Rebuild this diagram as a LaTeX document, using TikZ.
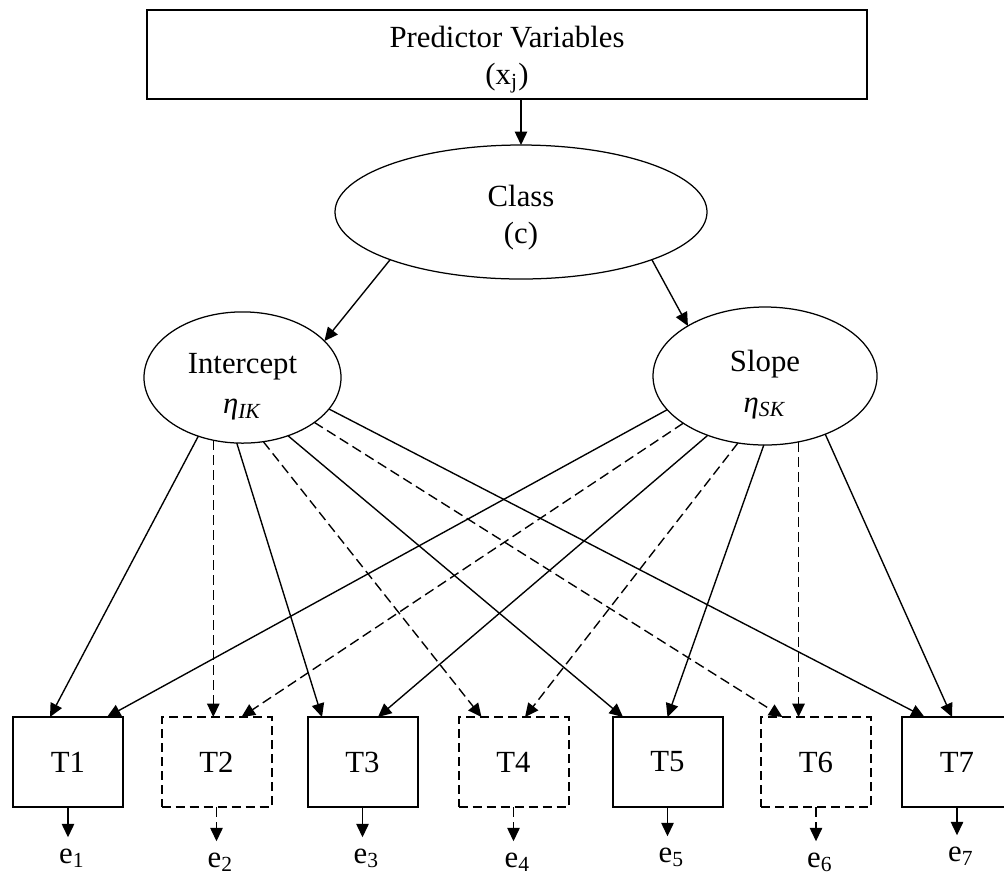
\documentclass[tikz,border=0pt]{standalone}
\usepackage{fontspec}
\setmainfont{Liberation Serif}
\usetikzlibrary{shapes, arrows.meta, positioning}

\tikzset{
  every node/.style={font=\fontsize{12.3}{14.8}\selectfont},
  latent/.style={draw, ellipse, line width=0.5pt, inner sep=0pt, outer sep=0pt, align=center},
  obsbox/.style={draw, rectangle, line width=0.8pt, minimum width=44pt, minimum height=36pt, inner sep=0pt, outer sep=0pt},
  obsdash/.style={obsbox, dash pattern=on 3.6pt off 2pt},
  errlab/.style={inner sep=0pt, outer sep=4.5pt, anchor=base},
  arr/.style={-{Triangle[length=5.4pt,width=5pt]}, line width=0.55pt},
  darr/.style={arr, dash pattern=on 4pt off 2pt},
}

\begin{document}
\begin{tikzpicture}[x=0.4pt, y=-0.4pt]
 \useasboundingbox (0,0) rectangle (1004,876);
 \node [draw, line width=0.8pt, inner sep=0pt, outer sep=0pt, minimum width=288pt, minimum height=35.6pt, align=center] (pred) at (507,54.5) {\rule{0pt}{12.5pt}Predictor Variables\\(x\textsubscript{j})};
 \node [latent, minimum width=148.8pt, minimum height=53.6pt] (cls) at (521,212) {\rule{0pt}{13pt}Class\\(c)};
 \node [latent, minimum width=78.8pt, minimum height=52.5pt] (icpt) at (242.5,377.5) {\rule{0pt}{15.5pt}Intercept\\[1.5pt]\textit{η}\textsubscript{\textit{IK}}};
 \node [latent, minimum width=89.6pt, minimum height=55.2pt] (slope) at (765,376) {\rule{0pt}{15.5pt}Slope\\[1.5pt]\textit{η}\textsubscript{\textit{SK}}};
 \node [obsbox] (t1) at (68,762) {T1};
 \node [obsdash] (t2) at (216.5,762) {T2};
 \node [obsbox] (t3) at (362.5,762) {T3};
 \node [obsdash] (t4) at (513.5,762) {T4};
 \node [obsbox] (t5) at (667.5,762) {T5};
 \node [obsdash] (t6) at (816,762) {T6};
 \node [obsbox] (t7) at (957,762) {T7};
 \node [errlab] (e1) at (72,863) {e\textsubscript{1}};
 \node [errlab] (e2) at (220.5,867) {e\textsubscript{2}};
 \node [errlab] (e3) at (366.5,863) {e\textsubscript{3}};
 \node [errlab] (e4) at (517.5,867) {e\textsubscript{4}};
 \node [errlab] (e5) at (671.5,862) {e\textsubscript{5}};
 \node [errlab] (e6) at (820,867) {e\textsubscript{6}};
 \node [errlab] (e7) at (961,861) {e\textsubscript{7}};
 \draw [arr] (cls.north |- pred.south) -- (cls);
 \draw [arr] (cls.-160) -- (icpt.24.2);
 \draw [arr] (cls.-20.4) -- (slope.147.5);
 \draw [arr] (icpt.-127.7) -- ([xshift=-7.2pt]t1.north);
 \draw [darr] (icpt.-115) -- (icpt.-115 |- t2.north);
 \draw [arr] (icpt.-95.5) -- ([xshift=-16.2pt]t3.north);
 \draw [darr] (icpt.-72.7) -- ([xshift=-12.8pt]t4.north);
 \draw [arr] (icpt.-52.6) -- ([xshift=-17.8pt]t5.north);
 \draw [darr] (icpt.-32.8) -- ([xshift=-13.4pt]t6.north);
 \draw [arr] (icpt.-20) -- ([xshift=-13pt]t7.north);
 \draw [arr] (slope.-161.5) -- ([xshift=15.6pt]t1.north);
 \draw [darr] (slope.-150) -- ([xshift=10pt]t2.north);
 \draw [arr] (slope.-134.5) -- ([xshift=6.2pt]t3.north);
 \draw [darr] (slope.-112) -- ([xshift=4.6pt]t4.north);
 \draw [arr] (slope.-91.6) -- (t5.north);
 \draw [darr] (slope.-63.4) -- (slope.-63.4 |- t6.north);
 \draw [arr] (slope.-44.5) -- ([xshift=-2pt]t7.north);
 \draw [arr] (t1) -- (t1 |- e1.north);
 \draw [darr] (t2) -- (t2 |- e2.north);
 \draw [arr] (t3) -- (t3 |- e3.north);
 \draw [darr] (t4) -- (t4 |- e4.north);
 \draw [arr] (t5) -- (t5 |- e5.north);
 \draw [darr] (t6) -- (t6 |- e6.north);
 \draw [arr] (t7) -- (t7 |- e7.north);
\end{tikzpicture}
\end{document}
